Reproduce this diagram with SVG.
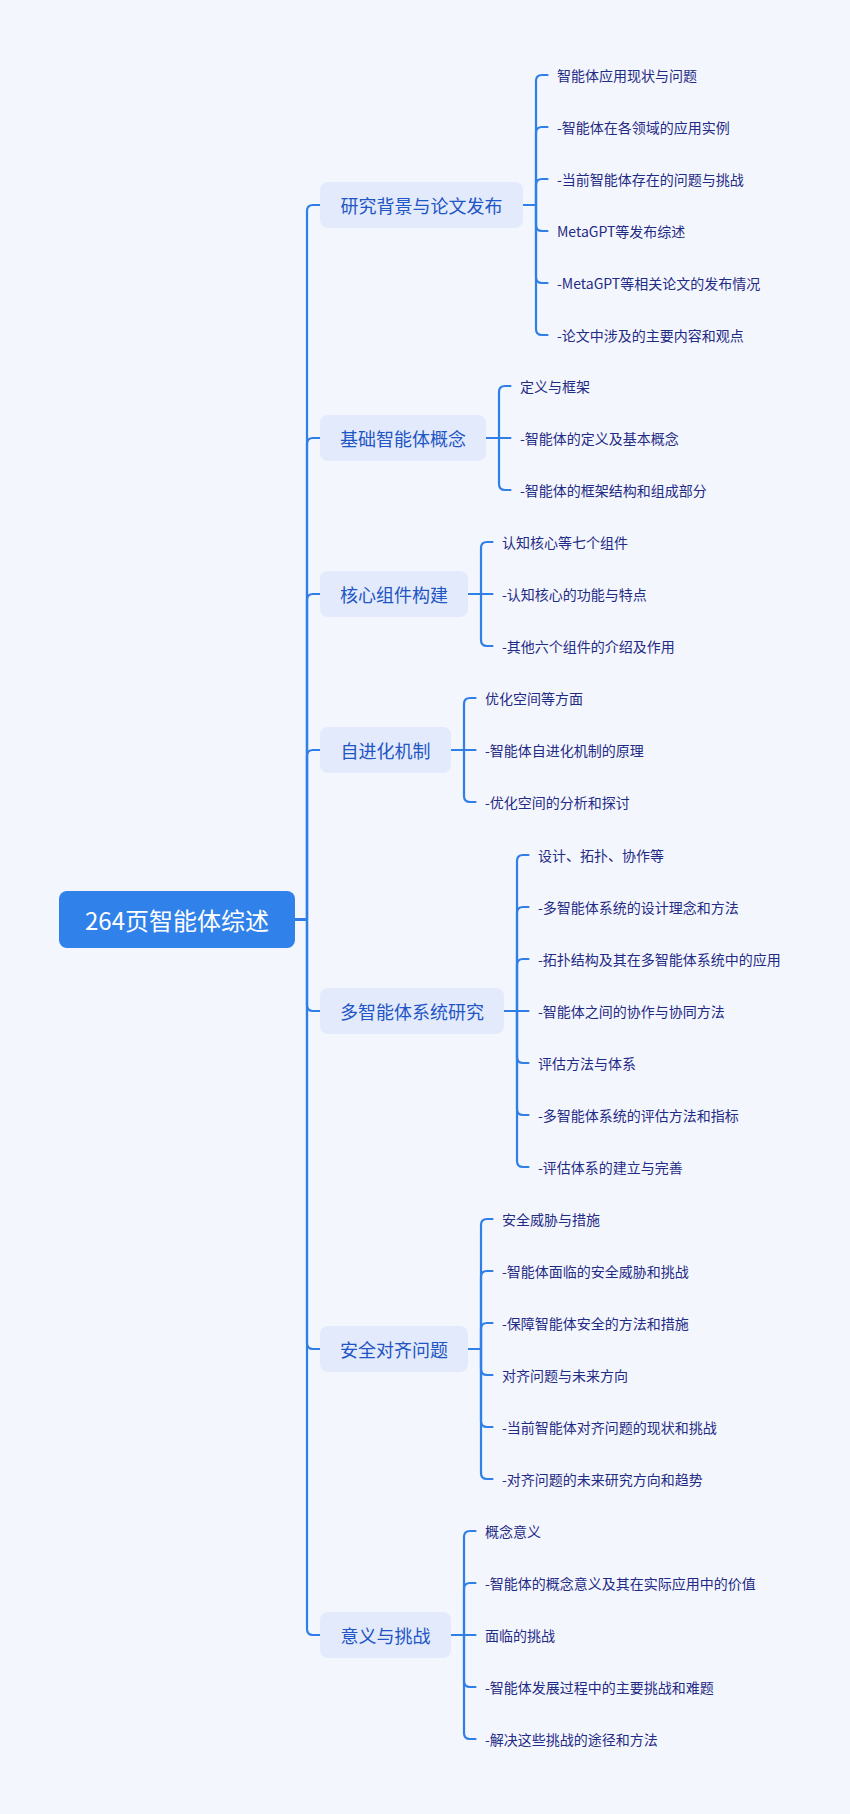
<svg xmlns="http://www.w3.org/2000/svg" width="850" height="1814" viewBox="0 0 850 1814">
<style>
.bg{fill:#F4F6FD}
.root{fill:#3081EA}
.rt{fill:#FFFFFF;font-family:"Noto Sans CJK SC","Noto Sans",sans-serif;font-size:24px;text-anchor:middle;dominant-baseline:central}
.mb{fill:#E2EAFC}
.mt{fill:#1F55C4;font-family:"Noto Sans CJK SC","Noto Sans",sans-serif;font-size:18px;text-anchor:middle;dominant-baseline:central}
.lt{fill:#1F2B85;font-family:"Noto Sans CJK SC","Noto Sans",sans-serif;font-size:14px;dominant-baseline:central}
.c path{fill:none;stroke:#2F7FE8;stroke-width:2.2;stroke-linecap:round;stroke-linejoin:round}
</style>
<rect class="bg" x="0" y="0" width="850" height="1814"/>
<g class="c" id="connectors">
<path d="M295,919.5H307V211Q307,205 313,205H320"/>
<path d="M295,919.5H307V444Q307,438 313,438H320"/>
<path d="M295,919.5H307V600Q307,594 313,594H320"/>
<path d="M295,919.5H307V756Q307,750 313,750H320"/>
<path d="M295,919.5H307V1005Q307,1011 313,1011H320"/>
<path d="M295,919.5H307V1343Q307,1349 313,1349H320"/>
<path d="M295,919.5H307V1629Q307,1635 313,1635H320"/>
<path d="M523,205H536V81Q536,75 542,75H547.5"/>
<path d="M523,205H536V133Q536,127 542,127H547.5"/>
<path d="M523,205H536V185Q536,179 542,179H547.5"/>
<path d="M523,205H536V225Q536,231 542,231H547.5"/>
<path d="M523,205H536V277Q536,283 542,283H547.5"/>
<path d="M523,205H536V329Q536,335 542,335H547.5"/>
<path d="M486,438H499V392Q499,386 505,386H510.5"/>
<path d="M486,438H510.5"/>
<path d="M486,438H499V484Q499,490 505,490H510.5"/>
<path d="M468,594H481V548Q481,542 487,542H492.5"/>
<path d="M468,594H492.5"/>
<path d="M468,594H481V640Q481,646 487,646H492.5"/>
<path d="M451,750H464V704Q464,698 470,698H475.5"/>
<path d="M451,750H475.5"/>
<path d="M451,750H464V796Q464,802 470,802H475.5"/>
<path d="M504,1011H517V861Q517,855 523,855H528.5"/>
<path d="M504,1011H517V913Q517,907 523,907H528.5"/>
<path d="M504,1011H517V965Q517,959 523,959H528.5"/>
<path d="M504,1011H528.5"/>
<path d="M504,1011H517V1057Q517,1063 523,1063H528.5"/>
<path d="M504,1011H517V1109Q517,1115 523,1115H528.5"/>
<path d="M504,1011H517V1161Q517,1167 523,1167H528.5"/>
<path d="M468,1349H481V1225Q481,1219 487,1219H492.5"/>
<path d="M468,1349H481V1277Q481,1271 487,1271H492.5"/>
<path d="M468,1349H481V1329Q481,1323 487,1323H492.5"/>
<path d="M468,1349H481V1369Q481,1375 487,1375H492.5"/>
<path d="M468,1349H481V1421Q481,1427 487,1427H492.5"/>
<path d="M468,1349H481V1473Q481,1479 487,1479H492.5"/>
<path d="M451,1635H464V1537Q464,1531 470,1531H475.5"/>
<path d="M451,1635H464V1589Q464,1583 470,1583H475.5"/>
<path d="M451,1635H475.5"/>
<path d="M451,1635H464V1681Q464,1687 470,1687H475.5"/>
<path d="M451,1635H464V1733Q464,1739 470,1739H475.5"/>
</g>
<g id="root"><rect class="root" x="59" y="891" width="236" height="57" rx="8"/><text class="rt" x="177" y="919.5">264页智能体综述</text></g>
<g id="n1"><rect class="mb" x="320" y="182" width="203" height="46" rx="8"/><text class="mt" x="421.5" y="205">研究背景与论文发布</text></g>
<g id="n2"><rect class="mb" x="320" y="415" width="166" height="46" rx="8"/><text class="mt" x="403" y="438">基础智能体概念</text></g>
<g id="n3"><rect class="mb" x="320" y="571" width="148" height="46" rx="8"/><text class="mt" x="394" y="594">核心组件构建</text></g>
<g id="n4"><rect class="mb" x="320" y="727" width="131" height="46" rx="8"/><text class="mt" x="385.5" y="750">自进化机制</text></g>
<g id="n5"><rect class="mb" x="320" y="988" width="184" height="46" rx="8"/><text class="mt" x="412" y="1011">多智能体系统研究</text></g>
<g id="n6"><rect class="mb" x="320" y="1326" width="148" height="46" rx="8"/><text class="mt" x="394" y="1349">安全对齐问题</text></g>
<g id="n7"><rect class="mb" x="320" y="1612" width="131" height="46" rx="8"/><text class="mt" x="385.5" y="1635">意义与挑战</text></g>
<g id="l1a"><text class="lt" x="557" y="75">智能体应用现状与问题</text></g>
<g id="l1b"><text class="lt" x="557" y="127">-智能体在各领域的应用实例</text></g>
<g id="l1c"><text class="lt" x="557" y="179">-当前智能体存在的问题与挑战</text></g>
<g id="l1d"><text class="lt" x="557" y="231">MetaGPT等发布综述</text></g>
<g id="l1e"><text class="lt" x="557" y="283">-MetaGPT等相关论文的发布情况</text></g>
<g id="l1f"><text class="lt" x="557" y="335">-论文中涉及的主要内容和观点</text></g>
<g id="l2a"><text class="lt" x="520" y="386">定义与框架</text></g>
<g id="l2b"><text class="lt" x="520" y="438">-智能体的定义及基本概念</text></g>
<g id="l2c"><text class="lt" x="520" y="490">-智能体的框架结构和组成部分</text></g>
<g id="l3a"><text class="lt" x="502" y="542">认知核心等七个组件</text></g>
<g id="l3b"><text class="lt" x="502" y="594">-认知核心的功能与特点</text></g>
<g id="l3c"><text class="lt" x="502" y="646">-其他六个组件的介绍及作用</text></g>
<g id="l4a"><text class="lt" x="485" y="698">优化空间等方面</text></g>
<g id="l4b"><text class="lt" x="485" y="750">-智能体自进化机制的原理</text></g>
<g id="l4c"><text class="lt" x="485" y="802">-优化空间的分析和探讨</text></g>
<g id="l5a"><text class="lt" x="538" y="855">设计、拓扑、协作等</text></g>
<g id="l5b"><text class="lt" x="538" y="907">-多智能体系统的设计理念和方法</text></g>
<g id="l5c"><text class="lt" x="538" y="959">-拓扑结构及其在多智能体系统中的应用</text></g>
<g id="l5d"><text class="lt" x="538" y="1011">-智能体之间的协作与协同方法</text></g>
<g id="l5e"><text class="lt" x="538" y="1063">评估方法与体系</text></g>
<g id="l5f"><text class="lt" x="538" y="1115">-多智能体系统的评估方法和指标</text></g>
<g id="l5g"><text class="lt" x="538" y="1167">-评估体系的建立与完善</text></g>
<g id="l6a"><text class="lt" x="502" y="1219">安全威胁与措施</text></g>
<g id="l6b"><text class="lt" x="502" y="1271">-智能体面临的安全威胁和挑战</text></g>
<g id="l6c"><text class="lt" x="502" y="1323">-保障智能体安全的方法和措施</text></g>
<g id="l6d"><text class="lt" x="502" y="1375">对齐问题与未来方向</text></g>
<g id="l6e"><text class="lt" x="502" y="1427">-当前智能体对齐问题的现状和挑战</text></g>
<g id="l6f"><text class="lt" x="502" y="1479">-对齐问题的未来研究方向和趋势</text></g>
<g id="l7a"><text class="lt" x="485" y="1531">概念意义</text></g>
<g id="l7b"><text class="lt" x="485" y="1583">-智能体的概念意义及其在实际应用中的价值</text></g>
<g id="l7c"><text class="lt" x="485" y="1635">面临的挑战</text></g>
<g id="l7d"><text class="lt" x="485" y="1687">-智能体发展过程中的主要挑战和难题</text></g>
<g id="l7e"><text class="lt" x="485" y="1739">-解决这些挑战的途径和方法</text></g>
</svg>
